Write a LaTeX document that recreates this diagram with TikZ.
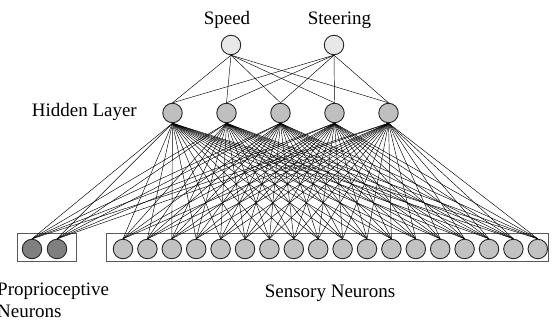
\documentclass[tikz,border=0pt]{standalone}
\usepackage{fontspec}
\setmainfont{Liberation Serif}
\begin{document}
\begin{tikzpicture}[x=1pt,y=-1pt,
  neuron/.style={circle,draw=black!85,line width=0.9pt,minimum size=19.5pt,inner sep=0pt},
  outn/.style={neuron,fill=black!9},
  hidn/.style={neuron,fill=black!25},
  sensn/.style={neuron,fill=black!24},
  propn/.style={neuron,fill=black!50},
  group/.style={draw=black!65,line width=0.9pt},
  link/.style={line width=0.45pt,black},
  lbl/.style={font=\fontsize{19}{22}\selectfont,anchor=base,inner sep=0pt}]
\useasboundingbox (0,0) rectangle (554,323);

% input groups
\draw[group] (17,233) rectangle (76,261);
\draw[group] (106,233) rectangle (548,261);

% proprioceptive inputs
\foreach \i/\x in {1/32,2/57}
  \node[propn] (p\i) at (\x,249) {};
% sensory inputs
\foreach \i in {1,...,18}
  \node[sensn] (s\i) at ({123+24.4*(\i-1)},249) {};

% hidden layer
\foreach \i in {1,...,5}
  \node[hidn] (h\i) at ({172.5+54*(\i-1)},113) {};

% outputs
\node[outn] (o1) at (231,45) {};
\node[outn] (o2) at (334,45) {};

% connections
\foreach \i in {1,...,5}{
  \foreach \j in {1,2}
    \draw[link] (o\j.south) -- (h\i.north);
  \foreach \j in {1,2}
    \draw[link] (h\i.south) -- (p\j.north);
  \foreach \j in {1,...,18}
    \draw[link] (h\i.south) -- (s\j.north);
}

% labels
\node[lbl] (tspeed) at (227,25) {Speed};
\node[lbl] (tsteer) at (339.5,25) {Steering};
\node[lbl,anchor=base east] (thid) at (137,117) {Hidden Layer};
\node[lbl,anchor=base west] (tprop1) at (-3,295) {Proprioceptive};
\node[lbl,anchor=base west] (tprop2) at (-3,317) {Neurons};
\node[lbl] (tsens) at (330,297) {Sensory Neurons};
\end{tikzpicture}
\end{document}
